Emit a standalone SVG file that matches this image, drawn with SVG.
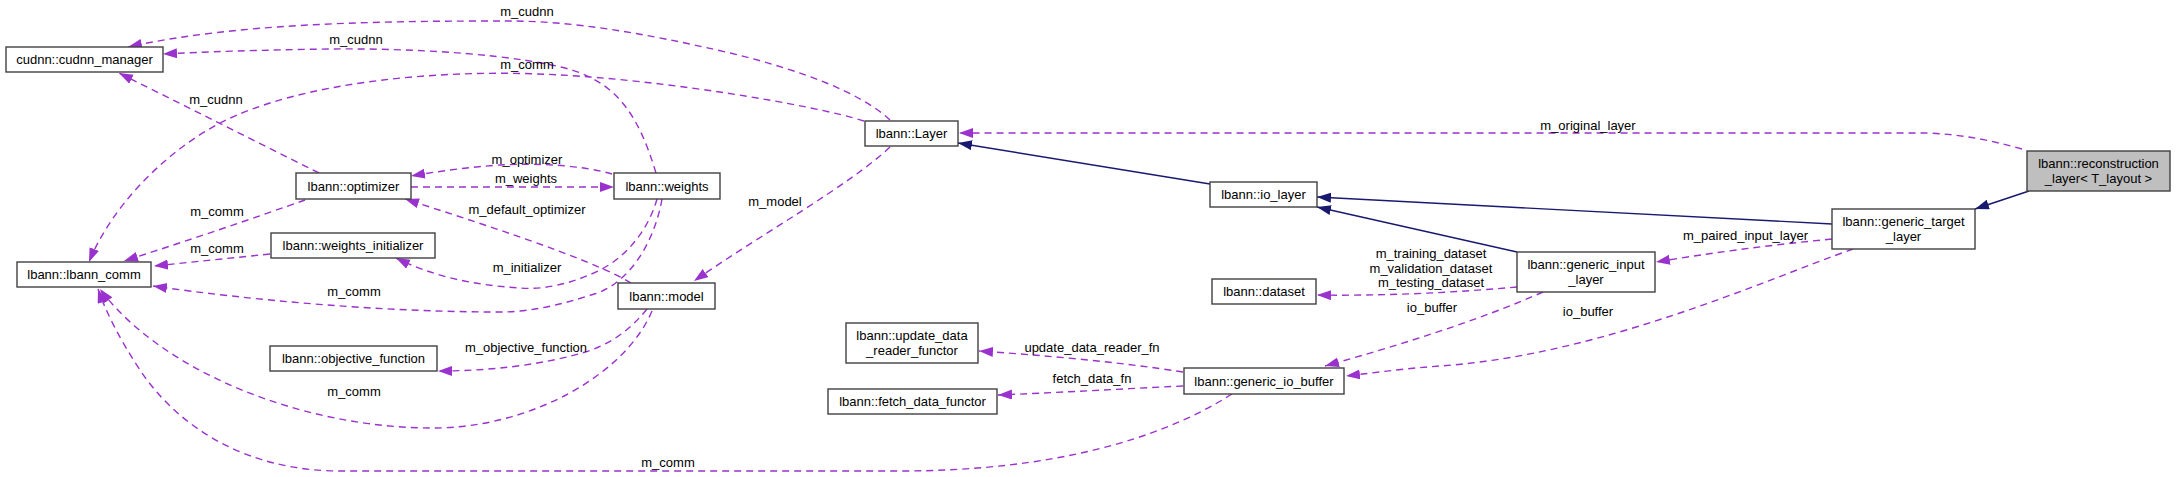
<svg xmlns="http://www.w3.org/2000/svg" width="2176" height="477" viewBox="0 0 2176 477">
<style>
  .node rect { fill: #ffffff; stroke: #404040; stroke-width: 1.4; }
  .node.hl rect { fill: #bfbfbf; }
  text { font-family: "Liberation Sans", Arial, sans-serif; font-size: 13px; fill: #000000; text-anchor: middle; }
  .use { fill: none; stroke: #9a32cd; stroke-width: 1.4; stroke-dasharray: 7,5; marker-end: url(#ap); }
  .inh { fill: none; stroke: #191970; stroke-width: 1.4; marker-end: url(#an); }
</style>
<defs>
  <marker id="ap" markerUnits="userSpaceOnUse" markerWidth="16" markerHeight="12" refX="14" refY="5" orient="auto">
    <path d="M0,0 L14,5 L0,10 z" fill="#9a32cd"/>
  </marker>
  <marker id="an" markerUnits="userSpaceOnUse" markerWidth="16" markerHeight="12" refX="14" refY="5" orient="auto">
    <path d="M0,0 L14,5 L0,10 z" fill="#191970"/>
  </marker>
</defs>
<rect width="2176" height="477" fill="#ffffff"/>
<g id="connectors">
  <path class="use" d="M890,120 C860,92 800,70 730,53 C640,32 570,21 510,21 C390,21 240,22 128,47"/>
  <text x="527" y="16">m_cudnn</text>
  <path class="use" d="M656,173 C640,120 620,85 572,70 C520,55 420,48 330,49 C260,50 200,52 163,54"/>
  <text x="356" y="44">m_cudnn</text>
  <path class="use" d="M864,121 C810,104 660,80 560,75 C440,68 300,82 220,123 C160,155 110,210 89,262"/>
  <text x="527" y="69">m_comm</text>
  <path class="use" d="M319,173 L119,73"/>
  <text x="216" y="104">m_cudnn</text>
  <path class="use" d="M305,200 C260,216 190,240 124,261"/>
  <text x="217" y="216">m_comm</text>
  <path class="use" d="M612,174 C580,165 540,163 500,165 C470,167 440,171 411,176"/>
  <text x="527" y="163.5">m_optimizer</text>
  <path class="use" d="M411,187 L614,187"/>
  <text x="526" y="183">m_weights</text>
  <path class="use" d="M631,283 C590,258 470,220 405,199"/>
  <text x="527" y="213.5">m_default_optimizer</text>
  <path class="use" d="M657,199 C650,225 630,255 600,270 C570,285 540,290 520,288 C470,285 430,275 396,258"/>
  <text x="527" y="272">m_initializer</text>
  <path class="use" d="M662,199 C655,240 630,285 591,295 C560,305 530,312 500,312 C380,312 250,300 153,286"/>
  <text x="354" y="296">m_comm</text>
  <path class="use" d="M270,254 L154,266"/>
  <text x="217" y="253">m_comm</text>
  <path class="use" d="M647,309 C630,330 610,345 582,353 C540,365 490,371 438,371"/>
  <text x="526" y="351.5">m_objective_function</text>
  <path class="use" d="M652,311 C625,375 530,428 433,428 C300,428 160,370 100,289"/>
  <text x="354" y="395.5">m_comm</text>
  <path class="use" d="M890,147 C850,185 760,235 694,281"/>
  <text x="775" y="205.5">m_model</text>
  <path class="use" d="M1232,394 C1160,440 1050,471 900,471 L340,471 C250,471 180,430 140,370 C120,340 105,310 98,289"/>
  <text x="668" y="467">m_comm</text>
  <path class="use" d="M1183,372 C1120,362 1040,355 979,351"/>
  <text x="1092" y="351.5">update_data_reader_fn</text>
  <path class="use" d="M1183,386 C1120,389 1050,393 998,395"/>
  <text x="1092" y="382.5">fetch_data_fn</text>
  <path class="use" d="M1517,287 C1450,293 1380,296 1317,295"/>
  <text x="1431" y="257.8">m_training_dataset</text>
  <text x="1431" y="272.5">m_validation_dataset</text>
  <text x="1431" y="287.2">m_testing_dataset</text>
  <path class="use" d="M1543,292 C1480,320 1400,345 1325,366"/>
  <text x="1432" y="311.5">io_buffer</text>
  <path class="use" d="M1853,249 C1760,282 1600,355 1440,366 C1410,368 1380,372 1346,376"/>
  <text x="1588" y="316">io_buffer</text>
  <path class="use" d="M1832,239 C1770,245 1710,253 1656,262"/>
  <text x="1745.5" y="239.5">m_paired_input_layer</text>
  <path class="use" d="M2022,149 C1990,140 1960,134 1925,133 L959,133"/>
  <text x="1588" y="129.5">m_original_layer</text>
  <path class="inh" d="M2029,191 L1975,209"/>
  <path class="inh" d="M1832,224 L1317,197"/>
  <path class="inh" d="M1517,252 L1317,207"/>
  <path class="inh" d="M1210,184 L958,143"/>
</g>
<g id="cudnn_manager" class="node"><rect x="6" y="47" width="157" height="25"/><text x="84.5" y="64">cudnn::cudnn_manager</text></g>
<g id="optimizer" class="node"><rect x="296" y="173" width="115" height="26"/><text x="353.5" y="190.5">lbann::optimizer</text></g>
<g id="weights" class="node"><rect x="614" y="173" width="106" height="26"/><text x="667" y="190.5">lbann::weights</text></g>
<g id="weights_initializer" class="node"><rect x="271" y="233" width="164" height="25"/><text x="353" y="250">lbann::weights_initializer</text></g>
<g id="lbann_comm" class="node"><rect x="17" y="262" width="134" height="25"/><text x="84" y="279">lbann::lbann_comm</text></g>
<g id="model" class="node"><rect x="618" y="283" width="97" height="26"/><text x="666.5" y="300.5">lbann::model</text></g>
<g id="objective_function" class="node"><rect x="270" y="346" width="167" height="25"/><text x="353.5" y="363">lbann::objective_function</text></g>
<g id="Layer" class="node"><rect x="865" y="121" width="93" height="25"/><text x="911.5" y="138">lbann::Layer</text></g>
<g id="io_layer" class="node"><rect x="1210" y="182" width="107" height="25"/><text x="1263.5" y="199">lbann::io_layer</text></g>
<g id="dataset" class="node"><rect x="1212" y="279" width="104" height="25"/><text x="1264" y="296">lbann::dataset</text></g>
<g id="update_data_reader_functor" class="node"><rect x="846" y="323" width="132" height="40"/><text x="912" y="339.5">lbann::update_data</text><text x="912" y="354.5">_reader_functor</text></g>
<g id="fetch_data_functor" class="node"><rect x="828" y="389" width="169" height="25"/><text x="912.5" y="406">lbann::fetch_data_functor</text></g>
<g id="generic_io_buffer" class="node"><rect x="1184" y="368" width="160" height="26"/><text x="1264" y="385.5">lbann::generic_io_buffer</text></g>
<g id="generic_input_layer" class="node"><rect x="1517" y="252" width="138" height="40"/><text x="1586" y="268.5">lbann::generic_input</text><text x="1586" y="283.5">_layer</text></g>
<g id="generic_target_layer" class="node"><rect x="1832" y="209" width="143" height="40"/><text x="1903.5" y="225.5">lbann::generic_target</text><text x="1903.5" y="240.5">_layer</text></g>
<g id="reconstruction_layer" class="node hl"><rect x="2027" y="151" width="143" height="40"/><text x="2098.5" y="167.5">lbann::reconstruction</text><text x="2098.5" y="182.5">_layer&lt; T_layout &gt;</text></g>
</svg>
